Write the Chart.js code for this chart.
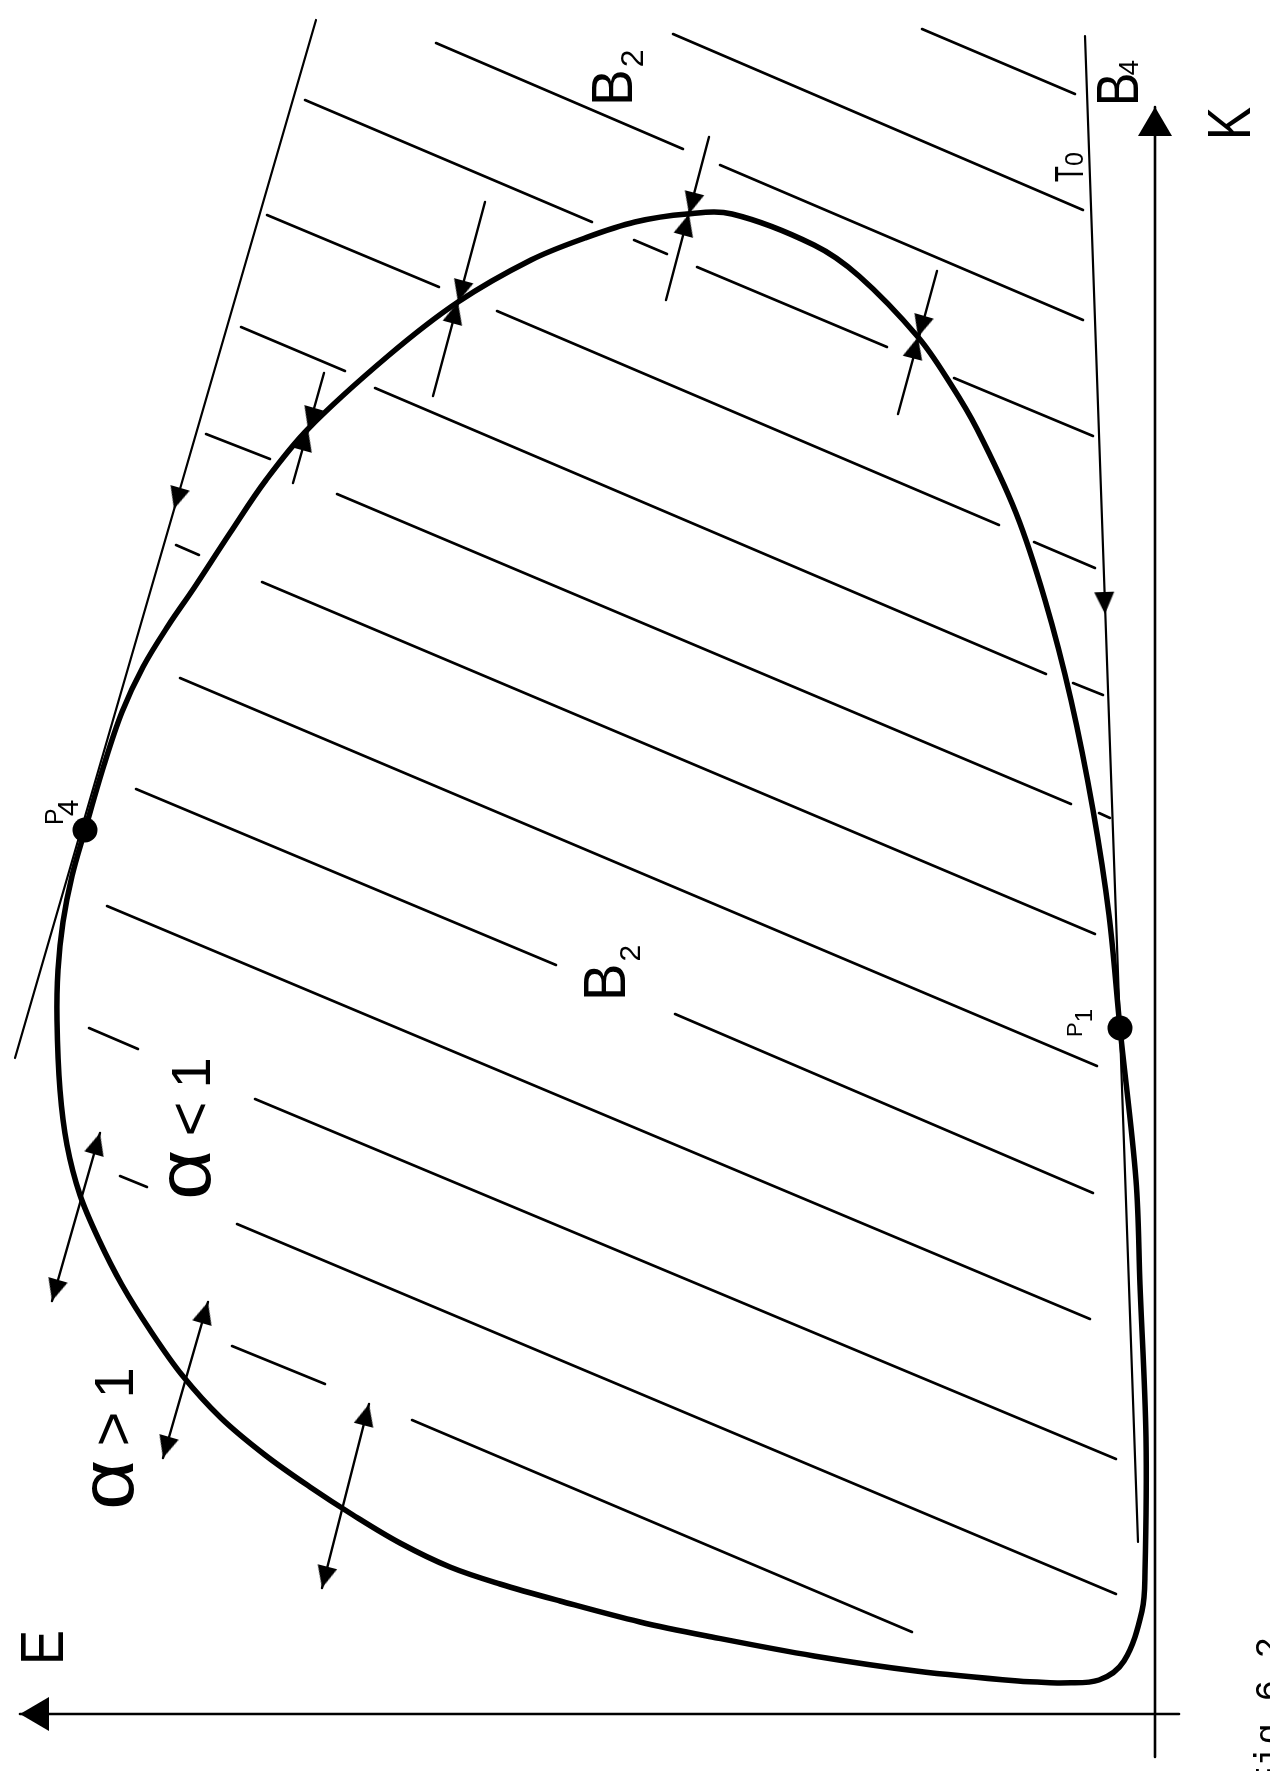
<!DOCTYPE html>
<html>
<head>
<meta charset="utf-8">
<title>Fig. 6.2</title>
<script src="https://cdn.jsdelivr.net/npm/chart.js@4.4.1/dist/chart.umd.min.js"></script>
<style>
  html, body { margin: 0; padding: 0; background: #fff; }
  #wrap { width: 1270px; height: 1771px; position: relative; }
</style>
</head>
<body>
<div id="wrap"><canvas id="phaseChart"></canvas></div>
<script>
// E grows to the left of the origin, K grows upwards (diagram is drawn turned on its side)

// closed boundary of the region, starting on the flat bottom stretch
const boundary = [
  [95, 31], [137, 33], [239, 43], [341, 58], [443, 77], [515, 92], [595, 113], [655, 130],
  [705, 147], [755, 171], [802, 199], [845, 227], [890, 259], [934, 296], [973, 339],
  [1005, 384], [1033, 429], [1056, 474], [1075, 519], [1088, 569], [1095, 624], [1098, 694],
  [1097, 744], [1092, 792], [1083, 838], [1070, 884], [1051, 949], [1033, 1002], [1012, 1047],
  [987, 1088], [961, 1126], [925, 1181], [889, 1234], [847, 1285], [767, 1358], [697, 1412],
  [624, 1454], [570, 1476], [520, 1492], [468, 1500], [423, 1500], [341, 1469], [296, 1438],
  [237, 1377], [205, 1331], [178, 1285], [139, 1201], [110, 1114], [84, 1014], [62, 904],
  [46, 799], [35, 686], [19, 534], [15, 429], [9, 276], [10, 142], [13, 103], [31, 53],
  [56, 34], [95, 31]
];

// parallel hatching, each entry is one stroke [start, end]
const hatching = [
  [[233, 1685], [80, 1620]],
  [[482, 1680], [72, 1504]],
  [[719, 1671], [472, 1565]], [[435, 1549], [72, 1394]],
  [[850, 1614], [563, 1492]], [[521, 1474], [488, 1460]], [[458, 1447], [268, 1367]], [[201, 1336], [62, 1278]],
  [[888, 1499], [716, 1427]], [[658, 1403], [156, 1189]], [[121, 1172], [60, 1146]],
  [[914, 1387], [810, 1343]], [[780, 1326], [109, 1040]], [[82, 1031], [52, 1019]],
  [[949, 1280], [885, 1255]], [[818, 1220], [84, 910]], [[56, 901], [45, 896]],
  [[979, 1169], [956, 1159]], [[893, 1132], [60, 780]],
  [[975, 1036], [58, 648]],
  [[1019, 925], [599, 749]], [[480, 700], [62, 521]],
  [[1048, 808], [65, 395]],
  [[1066, 686], [1017, 665]], [[900, 615], [39, 255]],
  [[1035, 538], [1008, 527]], [[918, 490], [39, 120]],
  [[923, 368], [830, 330]], [[743, 294], [243, 82]]
];

const eAxis = [[1135, 0], [-24, 0]];
const kAxis = [[0, 1607], [0, -43]];
const tangentP4 = [[839, 1694], [1140, 656]];
const tangentT0 = [[70, 1678], [17, 172]];
const tangentArrows = [[981, 1205], [50, 1100]];

// converging marks on the upper boundary: outer end, inner end, crossing
const inwardMarks = [
  { outer: [831, 1341], inner: [862, 1231], cross: [847, 1285] },
  { outer: [670, 1512], inner: [722, 1318], cross: [697, 1412] },
  { outer: [446, 1577], inner: [489, 1414], cross: [466, 1500] },
  { outer: [218, 1443], inner: [257, 1300], cross: [237, 1377] }
];

// double headed arrows across the lower left boundary
const alphaArrows = [
  [[1055, 581], [1103, 413]],
  [[947, 412], [992, 256]],
  [[786, 310], [833, 126]]
];

const touchPoints = [[35, 686], [1070, 884]];

// text runs, anchored at the baseline where reading starts
const labels = [
  { id: 'K', at: [-95, 1574], runs: ['K'] },
  { id: 'E', at: [1092, 49], runs: ['E'] },
  { id: 'B2top', at: [523, 1608], runs: ['B', '2'] },
  { id: 'B2mid', at: [530, 713], runs: ['B', '2'] },
  { id: 'B4', at: [17, 1608], runs: ['B', '4'] },
  { id: 'T0', at: [72, 1532], runs: ['T', '0'] },
  { id: 'aLess', at: [945, 514], runs: ['α', '<', '1'] },
  { id: 'aMore', at: [1022, 204], runs: ['α', '>', '1'] },
  { id: 'P1', at: [73, 677], runs: ['P', '1'] },
  { id: 'P4', at: [1092, 889], runs: ['P', '4'] },
  { id: 'fig', at: [-125, -74], runs: ['Fig.6.2.'] }
];

const SANS = '"Liberation Sans", Arial, sans-serif';
const MONO = '"Liberation Mono", "Courier New", monospace';
const labelStyle = {
  K: [{ size: 62, sx: 0.8 }],
  E: [{ size: 62, sx: 0.85 }],
  B2top: [{ size: 58, sx: 0.95 }, { size: 32, gap: 2, shift: 11 }],
  B2mid: [{ size: 59, sx: 0.95 }, { size: 30, gap: 2, shift: 15 }],
  B4: [{ size: 59, sx: 0.85 }, { size: 28, gap: -3, shift: 0 }],
  T0: [{ size: 40, sx: 0.65 }, { size: 25, gap: 0, shift: 0 }],
  aLess: [{ size: 76, sx: 1.15 }, { size: 60, gap: 13 }, { size: 56, gap: 13 }],
  aMore: [{ size: 76, sx: 1.15 }, { size: 60, gap: 13 }, { size: 56, gap: 13 }],
  P1: [{ size: 22 }, { size: 24, gap: 0, shift: 10 }],
  P4: [{ size: 25 }, { size: 30, gap: -8, shift: 15 }],
  fig: [{ size: 36, family: MONO }]
};

function xy(p) {
  return { x: p[0], y: p[1] };
}

// arrow head as a point image: tip sits in the centre, so the data point is the tip
function makeHead(len, width) {
  const c = document.createElement('canvas');
  c.width = len * 2;
  c.height = len * 2;
  const g = c.getContext('2d');
  g.fillStyle = '#000';
  g.beginPath();
  g.moveTo(len, len);
  g.lineTo(len - width / 2, len * 2);
  g.lineTo(len + width / 2, len * 2);
  g.closePath();
  g.fill();
  return c;
}
const smallHead = makeHead(22, 20);
const bigHead = makeHead(29, 34);

function lineSet(points, width, tension) {
  return {
    data: points.map(xy),
    showLine: true,
    borderColor: '#000',
    borderWidth: width,
    borderCapStyle: 'round',
    borderJoinStyle: 'round',
    pointRadius: 0,
    tension: tension || 0,
    clip: false
  };
}

// rotation follows the direction from 'from' to 'tip' in pixel space
function headSet(heads, img) {
  return {
    data: heads.map(h => xy(h.tip)),
    showLine: false,
    pointStyle: img,
    pointRadius: 20,
    clip: false,
    rotation: function(c) {
      const h = heads[c.dataIndex];
      if (!h || !c.chart.scales.x) return 0;
      const sx = c.chart.scales.x, sy = c.chart.scales.y;
      const dx = sx.getPixelForValue(h.tip[0]) - sx.getPixelForValue(h.from[0]);
      const dy = sy.getPixelForValue(h.tip[1]) - sy.getPixelForValue(h.from[1]);
      const a = Math.atan2(dx, -dy) * 180 / Math.PI;
      return isNaN(a) ? 0 : a;
    }
  };
}

const datasets = [];
datasets.push(lineSet(boundary, 5.5, 0.35));
hatching.forEach(seg => datasets.push(lineSet(seg, 2.6)));
datasets.push(lineSet(eAxis, 2.6));
datasets.push(lineSet(kAxis, 2.6));
datasets.push(lineSet(tangentP4, 2.2));
datasets.push(lineSet(tangentT0, 2.2));
inwardMarks.forEach(m => datasets.push(lineSet([m.outer, m.inner], 2.4)));
alphaArrows.forEach(a => datasets.push(lineSet(a, 2.4)));

const smallHeads = [
  { tip: tangentArrows[0], from: tangentP4[0] },
  { tip: tangentArrows[1], from: tangentT0[0] }
];
inwardMarks.forEach(m => {
  smallHeads.push({ tip: m.cross, from: m.outer });
  smallHeads.push({ tip: m.cross, from: m.inner });
});
alphaArrows.forEach(a => {
  smallHeads.push({ tip: a[0], from: a[1] });
  smallHeads.push({ tip: a[1], from: a[0] });
});
datasets.push(headSet(smallHeads, smallHead));
datasets.push(headSet([
  { tip: kAxis[0], from: [0, 0] },
  { tip: eAxis[0], from: [0, 0] }
], bigHead));

// the two touching points P1 and P4
datasets.push({
  data: touchPoints.map(xy),
  showLine: false,
  pointRadius: 12.5,
  pointBackgroundColor: '#000',
  pointBorderWidth: 0,
  clip: false
});

// labels are written bottom-to-top, like the rest of the sheet
const rotatedLabels = {
  id: 'rotatedLabels',
  afterDatasetsDraw(chart) {
    const ctx = chart.ctx;
    const sx = chart.scales.x, sy = chart.scales.y;
    labels.forEach(lb => {
      const st = labelStyle[lb.id];
      ctx.save();
      ctx.translate(sx.getPixelForValue(lb.at[0]), sy.getPixelForValue(lb.at[1]));
      ctx.rotate(-Math.PI / 2);
      ctx.fillStyle = '#000';
      ctx.textAlign = 'left';
      ctx.textBaseline = 'alphabetic';
      let pos = 0;
      lb.runs.forEach((txt, i) => {
        const r = st[i];
        const k = r.sx || 1;
        ctx.font = r.size + 'px ' + (r.family || SANS);
        pos += r.gap || 0;
        ctx.save();
        ctx.translate(pos, r.shift || 0);
        ctx.scale(k, 1);
        ctx.fillText(txt, 0, 0);
        ctx.restore();
        pos += ctx.measureText(txt).width * k;
      });
      ctx.restore();
    });
  }
};

const chart = new Chart(document.getElementById('phaseChart'), {
  type: 'scatter',
  data: { datasets: datasets },
  options: {
    responsive: true,
    maintainAspectRatio: false,
    animation: false,
    events: [],
    layout: { padding: 0, autoPadding: false },
    plugins: {
      legend: { display: false },
      tooltip: { enabled: false }
    },
    scales: {
      x: { type: 'linear', reverse: true, min: -115, max: 1155, display: false },
      y: { type: 'linear', min: -57, max: 1714, display: false }
    }
  },
  plugins: [rotatedLabels]
});
</script>
</body>
</html>
